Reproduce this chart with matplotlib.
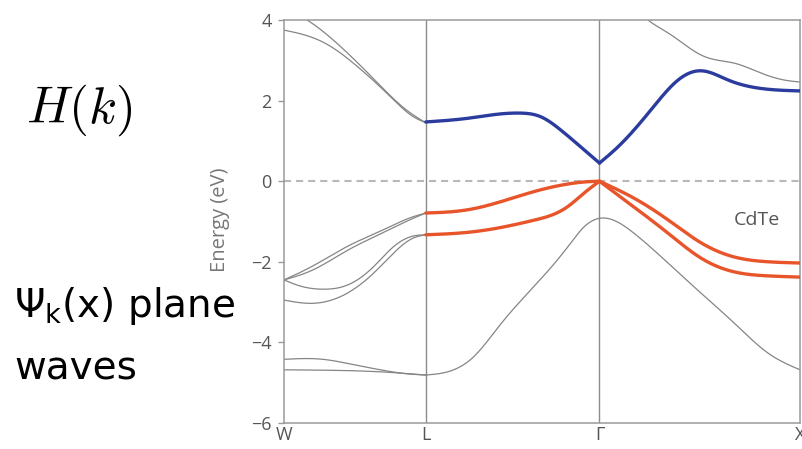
import numpy as np
import matplotlib
matplotlib.use("Agg")
import matplotlib.pyplot as plt

# ---------------- data (k in units of 2*pi/a, energies in eV) ----------------
k_ticks = [0.0, 0.7071, 1.5731, 2.5731]
k_labels = ["W", "L", "Γ", "X"]
y_ticks = [-6, -4, -2, 0, 2, 4]

# grey bands, W-L segment
cb_wl_1_k = [0.0, 0.115, 0.28, 0.445, 0.615, 0.7071]
cb_wl_1_e = [4.3, 4.0, 3.35, 2.55, 1.75, 1.45]
cb_wl_2_k = [0.0, 0.195, 0.365, 0.53, 0.645, 0.7071]
cb_wl_2_e = [3.75, 3.45, 2.85, 2.1, 1.6, 1.45]
va_k = [0.0, 0.145, 0.315, 0.48, 0.645, 0.7071]
va_e = [-2.45, -2.1, -1.62, -1.24, -0.88, -0.79]
vb_k = [0.0, 0.145, 0.315, 0.48, 0.645, 0.7071]
vb_e = [-2.45, -2.2, -1.72, -1.31, -0.92, -0.79]
vc_k = [0.0, 0.08, 0.195, 0.315, 0.445, 0.545, 0.645, 0.7071]
vc_e = [-2.45, -2.6, -2.68, -2.58, -2.13, -1.63, -1.36, -1.33]
vd_k = [0.0, 0.145, 0.315, 0.445, 0.545, 0.645, 0.7071]
vd_e = [-2.95, -3.03, -2.78, -2.29, -1.79, -1.41, -1.33]
ve_k = [0.0, 0.195, 0.315, 0.48, 0.615, 0.7071]
ve_e = [-4.42, -4.42, -4.52, -4.68, -4.78, -4.81]
vf_k = [0.0, 0.315, 0.48, 0.7071]
vf_e = [-4.68, -4.7, -4.73, -4.81]

# grey bands, L-Gamma-X
low_lg_k = [0.7071, 0.78, 0.945, 1.08, 1.245, 1.415, 1.495, 1.5731]
low_lg_e = [-4.81, -4.77, -4.36, -3.55, -2.62, -1.63, -1.14, -0.92]
low_gx_k = [1.5731, 1.745, 1.915, 2.08, 2.245, 2.415, 2.5731]
low_gx_e = [-0.92, -1.29, -2.03, -2.78, -3.52, -4.27, -4.68]
top_gx_k = [1.75, 1.815, 1.915, 2.015, 2.08, 2.165, 2.245, 2.38, 2.495, 2.5731]
top_gx_e = [4.3, 4.0, 3.68, 3.33, 3.13, 3.0, 2.93, 2.68, 2.51, 2.46]

# highlighted valence bands (orange)
vb1_lg_k = [0.7071, 0.915, 1.08, 1.245, 1.415, 1.495, 1.5731]
vb1_lg_e = [-0.79, -0.71, -0.51, -0.26, -0.07, -0.02, 0.0]
vb2_lg_k = [0.7071, 0.915, 1.08, 1.245, 1.415, 1.495, 1.5731]
vb2_lg_e = [-1.33, -1.27, -1.15, -0.97, -0.63, -0.3, 0.0]
vb1_gx_k = [1.5731, 1.745, 1.915, 2.08, 2.245, 2.415, 2.5731]
vb1_gx_e = [0.0, -0.42, -0.96, -1.53, -1.88, -2.0, -2.03]
vb2_gx_k = [1.5731, 1.745, 1.915, 2.08, 2.245, 2.415, 2.5731]
vb2_gx_e = [0.0, -0.64, -1.29, -1.91, -2.25, -2.35, -2.38]

# highlighted conduction band (blue)
cb_lg_k = [0.7071, 0.915, 1.08, 1.18, 1.28, 1.38, 1.48, 1.5731]
cb_lg_e = [1.47, 1.56, 1.67, 1.69, 1.6, 1.27, 0.85, 0.45]
cb_gx_k = [1.5731, 1.665, 1.83, 1.965, 2.08, 2.215, 2.38, 2.5731]
cb_gx_e = [0.45, 0.85, 1.77, 2.51, 2.74, 2.51, 2.3, 2.24]


def spline(x, y, n=300):
    """Natural cubic spline through the read points (drawing only)."""
    x = np.asarray(x, float)
    y = np.asarray(y, float)
    N = len(x)
    h = np.diff(x)
    A = np.zeros((N, N))
    b = np.zeros(N)
    A[0, 0] = A[-1, -1] = 1.0
    for i in range(1, N - 1):
        A[i, i - 1] = h[i - 1]
        A[i, i] = 2 * (h[i - 1] + h[i])
        A[i, i + 1] = h[i]
        b[i] = 6 * ((y[i + 1] - y[i]) / h[i] - (y[i] - y[i - 1]) / h[i - 1])
    M = np.linalg.solve(A, b)
    xs = np.linspace(x[0], x[-1], n)
    idx = np.clip(np.searchsorted(x, xs) - 1, 0, N - 2)
    hi = h[idx]
    a = (x[idx + 1] - xs) / hi
    c = (xs - x[idx]) / hi
    ys = (a * y[idx] + c * y[idx + 1]
          + ((a**3 - a) * M[idx] + (c**3 - c) * M[idx + 1]) * hi**2 / 6)
    return xs, ys


fig = plt.figure(figsize=(8.02, 4.49), dpi=100)
ax = fig.add_axes([284 / 802, 1 - 423 / 449, (800 - 284) / 802, (423 - 20) / 449])

grey = "#858585"
orange = "#E8552B"
blue = "#2B3C9E"

# zero line and high-symmetry lines
ax.axhline(0, color="#b8b8b8", lw=1.5, ls=(0, (3.4, 2.4)), zorder=1)
for kv in k_ticks[1:3]:
    ax.axvline(kv, color="#8c8c8c", lw=1.0, zorder=1)

grey_bands = [
    (cb_wl_1_k, cb_wl_1_e), (cb_wl_2_k, cb_wl_2_e),
    (va_k, va_e), (vb_k, vb_e), (vc_k, vc_e), (vd_k, vd_e),
    (ve_k, ve_e), (vf_k, vf_e),
    (low_lg_k + low_gx_k[1:], low_lg_e + low_gx_e[1:]),
    (top_gx_k, top_gx_e),
]
for kk, ee in grey_bands:
    xs, ys = spline(kk, ee)
    ax.plot(xs, ys, color=grey, lw=0.9, zorder=2, solid_capstyle="round")

for kk, ee in [(vb1_lg_k, vb1_lg_e), (vb2_lg_k, vb2_lg_e),
               (vb1_gx_k, vb1_gx_e), (vb2_gx_k, vb2_gx_e)]:
    xs, ys = spline(kk, ee)
    ax.plot(xs, ys, color=orange, lw=2.4, zorder=3, solid_capstyle="round")

for kk, ee in [(cb_lg_k, cb_lg_e), (cb_gx_k, cb_gx_e)]:
    xs, ys = spline(kk, ee)
    ax.plot(xs, ys, color=blue, lw=2.4, zorder=3, solid_capstyle="round")

ax.set_xlim(k_ticks[0], k_ticks[-1])
ax.set_ylim(-6, 4)
ax.set_xticks(k_ticks)
ax.set_xticklabels(k_labels)
ax.set_yticks(y_ticks)
ax.set_yticklabels([("−" if v < 0 else "") + str(abs(v)) for v in y_ticks])
for sp in ax.spines.values():
    sp.set_color("#9a9a9a")
    sp.set_linewidth(1.1)
ax.tick_params(axis="y", length=4, width=1, color="#9a9a9a", pad=5,
               labelsize=13, labelcolor="#555555")
ax.tick_params(axis="x", length=0, pad=2, labelsize=13, labelcolor="#555555")
for lab in ax.get_xticklabels() + ax.get_yticklabels():
    lab.set_family(["Open Sans", "DejaVu Sans"])

ax.text(2.36, -0.97, "CdTe", color="#555555", fontsize=14,
        family=["Open Sans", "DejaVu Sans"], ha="center", va="center")

fig.text(220 / 802, 1 - 220 / 449, "Energy (eV)", rotation=90, color="#777777",
         fontsize=14.5, family=["Open Sans", "DejaVu Sans"], ha="center", va="center")

fig.text(26 / 802, 1 - 110 / 449, r"$H(k)$", fontsize=37, math_fontfamily="cm",
         ha="left", va="center", color="black")
fig.text(14 / 802, 1 - 317 / 449, r"Ψ$_{\mathrm{k}}$(x) plane", fontsize=28,
         ha="left", va="baseline", color="black", family="DejaVu Sans")
fig.text(14 / 802, 1 - 380 / 449, "waves", fontsize=28,
         ha="left", va="baseline", color="black", family="DejaVu Sans")

fig.savefig("out.png", dpi=100)
